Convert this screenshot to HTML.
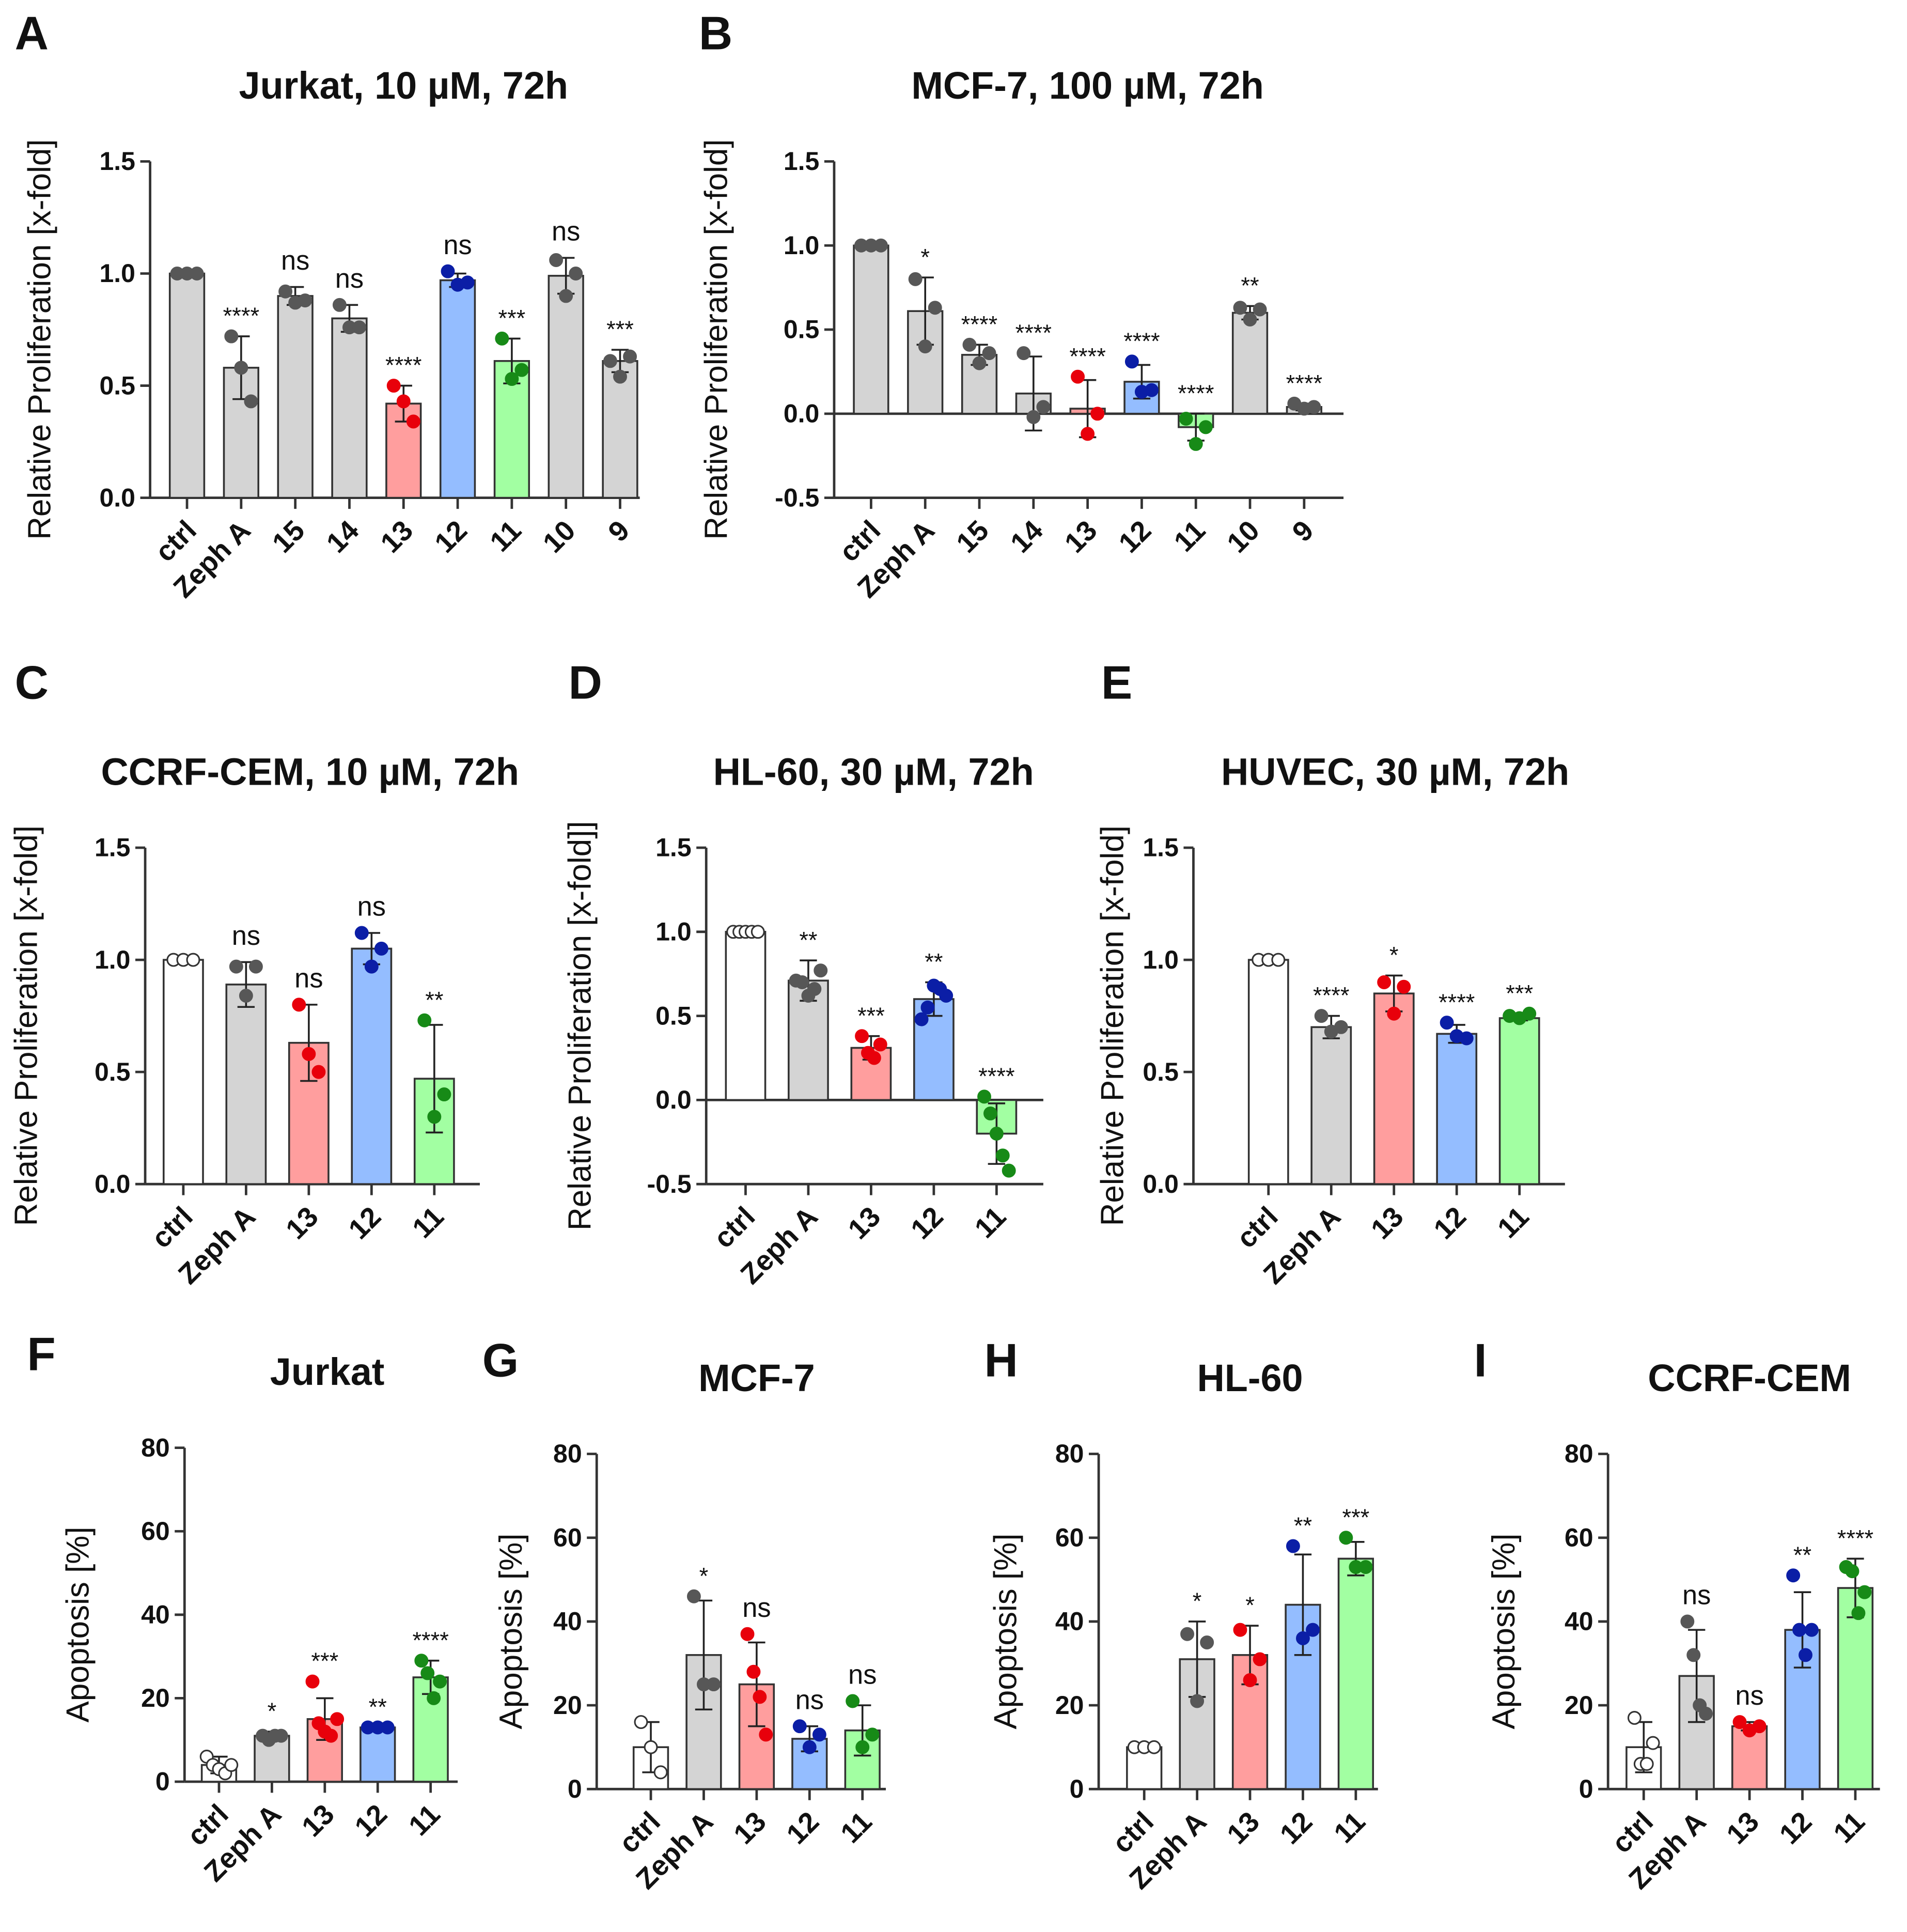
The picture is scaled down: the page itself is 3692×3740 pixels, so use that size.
<!DOCTYPE html>
<html><head><meta charset="utf-8"><style>
html,body{margin:0;padding:0;background:#fff}
svg{display:block}
text{font-family:"Liberation Sans",sans-serif;fill:#111}
</style></head><body>
<svg id="fig" width="3692" height="3740" viewBox="0 0 1550 1568" preserveAspectRatio="none" xmlns="http://www.w3.org/2000/svg"></svg>
<script>
// ---- data ----
const catsAB = ["ctrl","Zeph A","15","14","13","12","11","10","9"];
const cats5 = ["ctrl","Zeph A","13","12","11"];
const colAB = ["g","g","g","g","r","b","gr","g","g"];
const col5w = ["w","g","r","b","gr"];
const aVals = [1.0,0.58,0.9,0.8,0.42,0.97,0.61,0.99,0.61];
const aErr = [0,0.14,0.04,0.06,0.08,0.03,0.1,0.08,0.05];
const aPts = [[1,1,1],[0.72,0.58,0.43],[0.92,0.87,0.88],[0.86,0.76,0.76],[0.5,0.43,0.34],[1.01,0.95,0.96],[0.71,0.53,0.57],[1.06,0.9,1.0],[0.61,0.54,0.63]];
const aSig = ["","****","ns","ns","****","ns","***","ns","***"];
const bVals = [1.0,0.61,0.35,0.12,0.03,0.19,-0.08,0.6,0.04];
const bErr = [0,0.2,0.06,0.22,0.17,0.1,0.08,0.04,0.02];
const bPts = [[1,1,1],[0.8,0.4,0.63],[0.41,0.3,0.36],[0.36,-0.02,0.04],[0.22,-0.12,0],[0.31,0.13,0.14],[-0.03,-0.18,-0.08],[0.63,0.56,0.62],[0.06,0.03,0.04]];
const bSig = ["","*","****","****","****","****","****","**","****"];
const cVals = [1.0,0.89,0.63,1.05,0.47];
const cErr = [0,0.1,0.17,0.07,0.24];
const cPts = [[1,1,1],[0.97,0.84,0.97],[0.8,0.58,0.5],[1.12,0.97,1.05],[0.73,0.3,0.4]];
const cSig = ["","ns","ns","ns","**"];
const dVals = [1.0,0.71,0.31,0.6,-0.2];
const dErr = [0,0.12,0.07,0.1,0.18];
const dPts = [[1,1,1,1,1],[0.71,0.7,0.62,0.66,0.77],[0.38,0.28,0.25,0.33],[0.48,0.55,0.68,0.66,0.62],[0.02,-0.08,-0.2,-0.33,-0.42]];
const dSig = ["","**","***","**","****"];
const eVals = [1.0,0.7,0.85,0.67,0.74];
const eErr = [0,0.05,0.08,0.04,0.01];
const ePts = [[1,1,1],[0.75,0.68,0.7],[0.9,0.76,0.88],[0.72,0.66,0.65],[0.75,0.74,0.76]];
const eSig = ["","****","*","****","***"];
const fVals = [4,11,15,13,25];
const fErr = [2,1,5,0,4];
const fPts = [[6,4,3,2,4],[11,10,11,11],[24,14,12,11,15],[13,13,13],[29,26,20,24]];
const fSig = ["","*","***","**","****"];
const gVals = [10,32,25,12,14];
const gErr = [6,13,10,3,6];
const gPts = [[16,10,4],[46,25,25],[37,28,22,13],[15,10,13],[21,10,13]];
const gSig = ["","*","ns","ns","ns"];
const hVals = [10,31,32,44,55];
const hErr = [1,9,7,12,4];
const hPts = [[10,10,10],[37,21,35],[38,26,31],[58,36,38],[60,53,53]];
const hSig = ["","*","*","**","***"];
const iVals = [10,27,15,38,48];
const iErr = [6,11,1,9,7];
const iPts = [[17,6,6,11],[40,32,20,18],[16,14,15],[51,38,32,38],[53,52,42,47]];
const iSig = ["","ns","ns","**","****"];
const prolTicks = [0,0.5,1.0,1.5];
const prolTicksNeg = [-0.5,0,0.5,1.0,1.5];
const apoTicks = [0,20,40,60,80];

// ---- render ----
const NS="http://www.w3.org/2000/svg";
const svg=document.getElementById('fig');
const BAR={w:"#ffffff",g:"#d4d4d4",r:"#ff9e9e",b:"#94bdff",gr:"#a2ffa2"};
const PT={w:"#ffffff",g:"#575757",r:"#e8000b",b:"#0b1ea6",gr:"#178a17"};
function mk(tag,attrs,parent,txt){const e=document.createElementNS(NS,tag);for(const k in attrs)e.setAttribute(k,attrs[k]);if(txt!==undefined)e.textContent=txt;(parent||svg).appendChild(e);return e;}
function panel(p){
  const g=mk('g',{});
  
  
  const y=v=>p.y0-(v-p.dmin)/(p.dmax-p.dmin)*(p.y0-p.y1);
  const x=i=>p.x0+i*p.sp;
  const zero=y(Math.max(0,p.dmin));
  const L=mk('text',{x:p.lx,y:p.ly,'font-size':38,'font-weight':'bold'},g,p.letter);
  
  const T=mk('text',{x:p.tx,y:p.ty,'font-size':31,'font-weight':'bold','text-anchor':'middle'},g,p.title);
  
  const Y=mk('text',{x:0,y:0,'font-size':26,'text-anchor':'middle','xml:space':'preserve',transform:`translate(${p.ytx-4},${(p.y0+p.y1)/2+8}) rotate(-90)`},g,p.ytitle);
  
  const ya=mk('line',{x1:p.ax,x2:p.ax,y1:p.y1,y2:p.y0,stroke:'#333','stroke-width':2},g);
  
  p.ticks.forEach(t=>{
    mk('line',{x1:p.ax-8,x2:p.ax,y1:y(t),y2:y(t),stroke:'#333','stroke-width':2},g);
    const tl=mk('text',{x:p.ax-12,y:y(t)+7,'font-size':21,'font-weight':'bold','text-anchor':'end'},g,p.fmt(t));
    
  });
  const xa=mk('line',{x1:p.ax,x2:p.xend,y1:p.y0,y2:p.y0,stroke:'#333','stroke-width':2},g);
  
  if(p.dmin<0){const zl=mk('line',{x1:p.ax,x2:p.xend,y1:zero,y2:zero,stroke:'#333','stroke-width':2},g);}
  p.cats.forEach((c,i)=>{
    const cx=x(i);
    mk('line',{x1:cx,x2:cx,y1:p.y0,y2:p.y0+9,stroke:'#333','stroke-width':2},g);
    const xl=mk('text',{x:0,y:0,'font-size':23,'font-weight':'bold','text-anchor':'end',transform:`translate(${cx+9},${p.y0+28}) rotate(-45)`},g,c);
    
    const v=p.vals[i],col=p.cols[i];
    const top=Math.min(y(v),zero),h=Math.abs(y(v)-zero);
    const b=mk('rect',{x:cx-p.bw/2,y:top,width:p.bw,height:Math.max(h,0.5),fill:BAR[col],stroke:'#333','stroke-width':1.5},g);
    
    const e=p.err[i];
    if(e>0){
      const ey1=y(v+e),ey2=y(v-e);
      mk('line',{x1:cx,x2:cx,y1:ey1,y2:ey2,stroke:'#222','stroke-width':1.5},g);
      mk('line',{x1:cx-7,x2:cx+7,y1:ey1,y2:ey1,stroke:'#222','stroke-width':1.5},g);
      mk('line',{x1:cx-7,x2:cx+7,y1:ey2,y2:ey2,stroke:'#222','stroke-width':1.5},g);
    }
    const pts=p.pts[i],n=pts.length;
    pts.forEach((pv,j)=>{
      const off=(j-(n-1)/2)*(n>3?5:8);
      const d=mk('circle',{cx:cx+off,cy:y(pv),r:5,fill:PT[col],stroke:col==='w'?'#333':PT[col],'stroke-width':1.3},g);
      
    });
    if(p.sig[i]){
      const mx=Math.max(v+e,...pts);
      const isNs=p.sig[i]==='ns';
      const s=mk('text',{x:cx,y:y(mx)-(isNs?14:10),'font-size':isNs?22:19,'text-anchor':'middle'},g,p.sig[i]);
      
    }
  });
}
const f1=t=>t.toFixed(1), f0=t=>String(t);
const PROL="Relative  Proliferation [x-fold]";
panel({letter:"A",lx:12,ly:40,title:"Jurkat, 10 µM, 72h",tx:328,ty:80,ytitle:PROL,ytx:45,ax:122,y0:404,y1:131,dmin:0,dmax:1.5,x0:152,sp:44,bw:28,xend:520,ticks:prolTicks,fmt:f1,cats:catsAB,cols:colAB,vals:aVals,err:aErr,pts:aPts,sig:aSig});
panel({letter:"B",lx:568,ly:40,title:"MCF-7, 100 µM, 72h",tx:884,ty:80,ytitle:PROL,ytx:595,ax:678,y0:404,y1:131,dmin:-0.5,dmax:1.5,x0:708,sp:44,bw:28,xend:1092,ticks:prolTicksNeg,fmt:f1,cats:catsAB,cols:colAB,vals:bVals,err:bErr,pts:bPts,sig:bSig});
panel({letter:"C",lx:12,ly:567,title:"CCRF-CEM, 10 µM, 72h",tx:252,ty:637,ytitle:PROL,ytx:34,ax:118,y0:961,y1:688,dmin:0,dmax:1.5,x0:149,sp:51,bw:32,xend:390,ticks:prolTicks,fmt:f1,cats:cats5,cols:col5w,vals:cVals,err:cErr,pts:cPts,sig:cSig});
panel({letter:"D",lx:462,ly:567,title:"HL-60, 30 µM, 72h",tx:710,ty:637,ytitle:"Relative  Proliferation [x-fold]]",ytx:484,ax:574,y0:961,y1:688,dmin:-0.5,dmax:1.5,x0:606,sp:51,bw:32,xend:848,ticks:prolTicksNeg,fmt:f1,cats:cats5,cols:col5w,vals:dVals,err:dErr,pts:dPts,sig:dSig});
panel({letter:"E",lx:895,ly:567,title:"HUVEC, 30 µM, 72h",tx:1134,ty:637,ytitle:PROL,ytx:917,ax:970,y0:961,y1:688,dmin:0,dmax:1.5,x0:1031,sp:51,bw:32,xend:1272,ticks:prolTicks,fmt:f1,cats:cats5,cols:col5w,vals:eVals,err:eErr,pts:ePts,sig:eSig});
panel({letter:"F",lx:22,ly:1112,title:"Jurkat",tx:266,ty:1124,ytitle:"Apoptosis [%]",ytx:76,ax:150,y0:1446,y1:1175,dmin:0,dmax:80,x0:178,sp:43,bw:28,xend:372,ticks:apoTicks,fmt:f0,cats:cats5,cols:col5w,vals:fVals,err:fErr,pts:fPts,sig:fSig});
panel({letter:"G",lx:392,ly:1117,title:"MCF-7",tx:615,ty:1129,ytitle:"Apoptosis [%]",ytx:428,ax:485,y0:1452,y1:1180,dmin:0,dmax:80,x0:529,sp:43,bw:28,xend:720,ticks:apoTicks,fmt:f0,cats:cats5,cols:col5w,vals:gVals,err:gErr,pts:gPts,sig:gSig});
panel({letter:"H",lx:800,ly:1117,title:"HL-60",tx:1016,ty:1129,ytitle:"Apoptosis [%]",ytx:830,ax:893,y0:1452,y1:1180,dmin:0,dmax:80,x0:930,sp:43,bw:28,xend:1120,ticks:apoTicks,fmt:f0,cats:cats5,cols:col5w,vals:hVals,err:hErr,pts:hPts,sig:hSig});
panel({letter:"I",lx:1198,ly:1117,title:"CCRF-CEM",tx:1422,ty:1129,ytitle:"Apoptosis [%]",ytx:1235,ax:1307,y0:1452,y1:1180,dmin:0,dmax:80,x0:1336,sp:43,bw:28,xend:1528,ticks:apoTicks,fmt:f0,cats:cats5,cols:col5w,vals:iVals,err:iErr,pts:iPts,sig:iSig});
</script>
</body></html>
